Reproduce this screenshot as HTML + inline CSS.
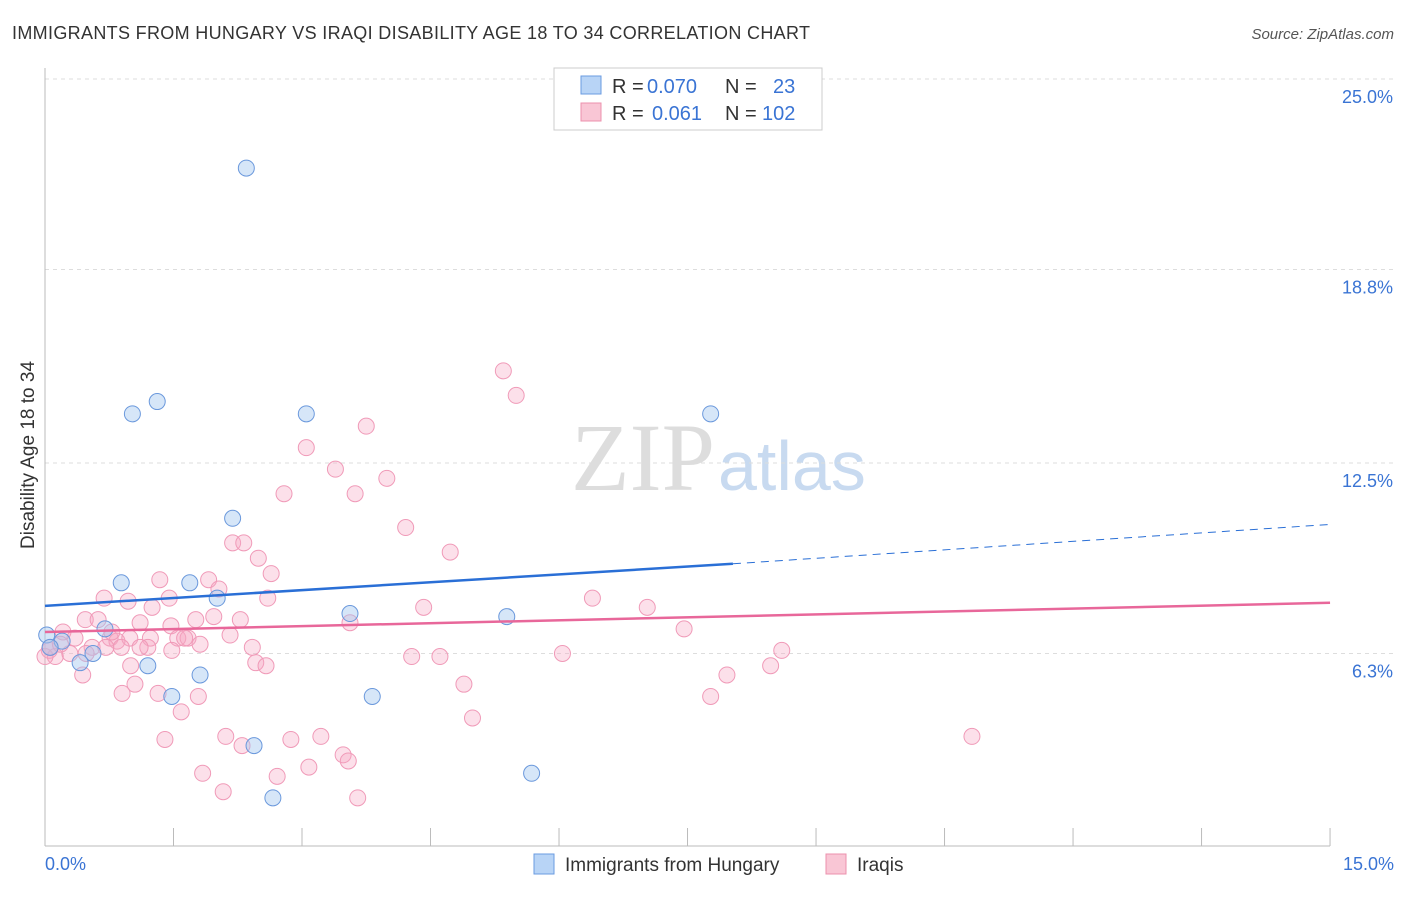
<!DOCTYPE html>
<html><head><meta charset="utf-8"><style>
body{margin:0;background:#fff;font-family:"Liberation Sans",sans-serif;}
</style></head><body>
<svg id="c" width="1406" height="892" xmlns="http://www.w3.org/2000/svg">
<text x="12" y="39" font-size="18" fill="#333" textLength="798">IMMIGRANTS FROM HUNGARY VS IRAQI DISABILITY AGE 18 TO 34 CORRELATION CHART</text>
<text x="1394" y="39" font-size="15" fill="#555" font-style="italic" text-anchor="end">Source: ZipAtlas.com</text>
<text x="715" y="490" font-size="96" fill="#ddd" font-family="Liberation Serif,serif" text-anchor="end">ZIP</text>
<text x="718" y="490" font-size="70" fill="#c8daf0">atlas</text>
<g id="grid"></g>
<line x1="45" y1="68" x2="45" y2="846" stroke="#bbb"/>
<line x1="45" y1="846" x2="1330" y2="846" stroke="#bbb"/>
<g id="pts"></g>
<g id="lines"></g>
<text x="34" y="455" font-size="19" fill="#333" transform="rotate(-90 34 455)" text-anchor="middle">Disability Age 18 to 34</text>
<text x="45" y="870" font-size="18" fill="#3a74d4">0.0%</text>
<text x="1394" y="870" font-size="18" fill="#3a74d4" text-anchor="end">15.0%</text>
<g>
<rect x="554" y="68" width="268" height="62" fill="#fff" stroke="#ccc"/>
<rect x="581" y="76" width="20" height="18" fill="#b8d4f6" stroke="#6a9be0"/>
<rect x="581" y="103" width="20" height="18" fill="#f9c6d5" stroke="#ec90ad"/>
<text x="612" y="93" font-size="20" fill="#333">R =</text>
<text x="647" y="93" font-size="20" fill="#3a74d4">0.070</text>
<text x="725" y="93" font-size="20" fill="#333">N =</text>
<text x="773" y="93" font-size="20" fill="#3a74d4">23</text>
<text x="612" y="120" font-size="20" fill="#333">R =</text>
<text x="652" y="120" font-size="20" fill="#3a74d4">0.061</text>
<text x="725" y="120" font-size="20" fill="#333">N =</text>
<text x="762" y="120" font-size="20" fill="#3a74d4">102</text>
</g>
<g>
<rect x="534" y="854" width="20" height="20" fill="#b8d4f6" stroke="#6a9be0"/>
<text x="565" y="871" font-size="19" fill="#333">Immigrants from Hungary</text>
<rect x="826" y="854" width="20" height="20" fill="#f9c6d5" stroke="#ec90ad"/>
<text x="857" y="871" font-size="19" fill="#333">Iraqis</text>
</g>
</svg>
<script>
const yTicks=[25.0,18.8,12.5,6.3];
const yTickLabels=["25.0%","18.8%","12.5%","6.3%"];
const hungaryX=[2.35,1.31,1.02,3.05,7.77,2.19,0.89,1.69,2.01,3.56,5.39,0.70,0.02,0.20,0.56,0.41,1.20,1.81,1.48,3.82,2.44,5.68,2.66,0.06];
const hungaryY=[22.1,14.5,14.1,14.1,14.1,10.7,8.6,8.6,8.1,7.6,7.5,7.1,6.9,6.7,6.3,6.0,5.9,5.6,4.9,4.9,3.3,2.4,1.6,6.5];
const iraqiX=[5.35,5.50,3.75,3.05,3.39,3.99,3.62,2.79,4.21,2.19,2.32,4.73,2.49,2.64,1.34,1.91,2.03,0.69,0.97,1.45,6.39,7.03,4.42,1.25,2.60,1.97,1.76,2.28,0.47,0.62,1.11,1.47,3.56,7.46,2.16,0.21,0.35,0.76,0.84,0.99,1.23,1.55,1.67,1.81,0.55,0.71,0.89,1.20,1.48,2.42,4.28,4.61,6.04,8.60,0.05,0.12,0.29,0.48,2.46,2.58,1.00,8.47,7.96,0.44,1.05,4.89,0.90,1.32,1.79,7.77,1.59,4.99,1.40,2.11,2.87,3.22,10.82,2.30,3.48,3.54,1.84,3.08,2.71,2.08,3.65,0.00,0.06,0.18,0.78,1.11,1.63];
const iraqiY=[15.5,14.7,13.7,13.0,12.3,12.0,11.5,11.5,10.4,9.9,9.9,9.6,9.4,8.9,8.7,8.7,8.4,8.1,8.0,8.1,8.1,7.8,7.8,7.8,8.1,7.5,7.4,7.4,7.4,7.4,7.3,7.2,7.3,7.1,6.9,7.0,6.8,6.8,6.7,6.8,6.8,6.8,6.8,6.6,6.5,6.5,6.5,6.5,6.4,6.5,6.2,6.2,6.3,6.4,6.4,6.2,6.3,6.3,6.0,5.9,5.9,5.9,5.6,5.6,5.3,5.3,5.0,5.0,4.9,4.9,4.4,4.2,3.5,3.6,3.5,3.6,3.6,3.3,3.0,2.8,2.4,2.6,2.3,1.8,1.6,6.2,6.5,6.6,7.0,6.5,6.8];
const hungaryTrend=[7.85,9.22,10.5];
const iraqiTrend=[7.0,7.95];
const X=v=>45+v*85.67, Y=v=>79+(25-v)*30.72;
const NS="http://www.w3.org/2000/svg";
function mk(t,a,p){const e=document.createElementNS(NS,t);for(const k in a)e.setAttribute(k,a[k]);p.appendChild(e);return e;}
const grid=document.getElementById('grid');
yTicks.forEach((t,i)=>{
 const l=mk('line',{x1:45,x2:1394,y1:Y(t),y2:Y(t),stroke:'#ddd','stroke-dasharray':'4 4'},grid);
 
 
 const tx=mk('text',{x:1393,y:Y(t)+24,'font-size':18,fill:'#3a74d4','text-anchor':'end'},grid);
 tx.textContent=yTickLabels[i];
 
 
});
for(let i=1;i<=10;i++){const l=mk('line',{x1:X(i*1.5),x2:X(i*1.5),y1:828,y2:846,stroke:'#bbb'},grid);
 
 }
const pts=document.getElementById('pts');
iraqiX.forEach((x,i)=>{const c=mk('circle',{cx:X(x),cy:Y(iraqiY[i]),r:8,fill:'rgba(245,165,195,0.35)',stroke:'#f09ab8','stroke-width':1},pts);
 
 });
hungaryX.forEach((x,i)=>{const c=mk('circle',{cx:X(x),cy:Y(hungaryY[i]),r:8,fill:'rgba(165,200,240,0.45)',stroke:'#6a98dc','stroke-width':1},pts);
 
 });
const lg=document.getElementById('lines');
let e=mk('line',{x1:X(0),y1:Y(hungaryTrend[0]),x2:X(8.03),y2:Y(hungaryTrend[1]),stroke:'#2a6fd6','stroke-width':2.5},lg);


e=mk('line',{x1:X(8.03),y1:Y(hungaryTrend[1]),x2:X(15),y2:Y(hungaryTrend[2]),stroke:'#2a6fd6','stroke-width':1,'stroke-dasharray':'8 6'},lg);


e=mk('line',{x1:X(0),y1:Y(iraqiTrend[0]),x2:X(15),y2:Y(iraqiTrend[1]),stroke:'#e8679a','stroke-width':2.5},lg);


</script>
</body></html>
